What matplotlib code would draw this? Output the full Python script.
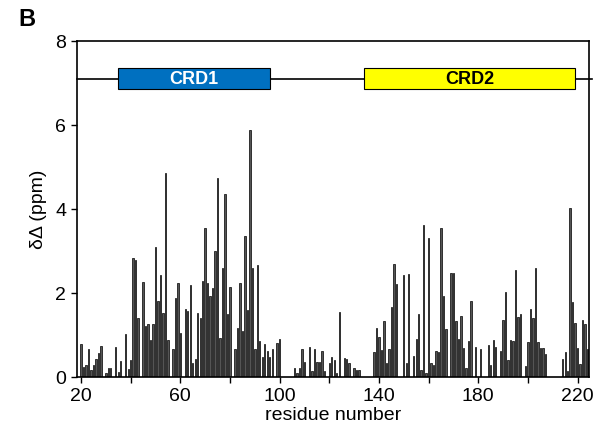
import matplotlib
matplotlib.use("Agg")
import matplotlib.pyplot as plt
from matplotlib.patches import Rectangle
from matplotlib.ticker import MultipleLocator
import numpy as np

plt.rcParams['font.family'] = ['Liberation Sans', 'DejaVu Sans']

# residue numbers 20..224, chemical shift perturbation (ppm); 0 = no bar
residues = list(range(20, 225))
shifts = [
    0.79, 0.23, 0.30, 0.68, 0.17, 0.30, 0.44, 0.58, 0.75, 0.00,   # 20-29
    0.09, 0.21, 0.21, 0.00, 0.72, 0.13, 0.38, 0.00, 1.02, 0.20,   # 30-39
    0.42, 2.83, 2.79, 1.42, 0.00, 2.27, 1.22, 1.26, 0.88, 1.26,   # 40-49
    3.10, 1.81, 2.44, 1.53, 4.85, 0.88, 0.00, 0.66, 1.89, 2.25,   # 50-59
    1.04, 0.00, 1.63, 1.57, 2.19, 0.33, 0.43, 1.53, 1.40, 2.29,   # 60-69
    3.56, 2.25, 1.94, 2.13, 3.00, 4.73, 0.94, 2.59, 4.37, 1.50,   # 70-79
    2.15, 0.00, 0.68, 1.16, 2.23, 1.10, 3.37, 1.60, 5.88, 2.60,   # 80-89
    0.67, 2.68, 0.87, 0.48, 0.78, 0.62, 0.48, 0.67, 0.00, 0.82,   # 90-99
    0.90, 0.00, 0.00, 0.00, 0.00, 0.00, 0.21, 0.11, 0.21, 0.68,   # 100-109
    0.36, 0.00, 0.71, 0.15, 0.67, 0.36, 0.37, 0.62, 0.15, 0.00,   # 110-119
    0.33, 0.47, 0.40, 0.09, 1.54, 0.00, 0.45, 0.44, 0.34, 0.00,   # 120-129
    0.21, 0.17, 0.16, 0.00, 0.00, 0.00, 0.00, 0.00, 0.60, 1.16,   # 130-139
    0.96, 0.64, 1.34, 0.33, 0.67, 1.67, 2.69, 2.21, 0.00, 0.00,   # 140-149
    2.43, 0.34, 2.46, 0.00, 0.50, 0.90, 1.50, 0.17, 3.62, 0.09,   # 150-159
    3.32, 0.33, 0.28, 0.62, 0.59, 3.54, 1.94, 1.15, 0.00, 2.49,   # 160-169
    2.47, 1.33, 0.92, 1.46, 0.70, 0.22, 0.86, 1.81, 0.00, 0.72,   # 170-179
    0.00, 0.66, 0.00, 0.00, 0.76, 0.30, 0.88, 0.71, 0.00, 0.62,   # 180-189
    1.36, 2.02, 0.42, 0.88, 0.86, 2.56, 1.44, 1.50, 0.00, 0.26,   # 190-199
    0.84, 1.63, 1.40, 2.60, 0.84, 0.70, 0.70, 0.56, 0.00, 0.00,   # 200-209
    0.00, 0.00, 0.00, 0.00, 0.44, 0.59, 0.14, 4.03, 1.80, 1.28,   # 210-219
    0.70, 0.31, 1.37, 1.26, 0.67,                                 # 220-224
]

# domain boxes (start, end residue)
domain_names = ['CRD1', 'CRD2']
domain_starts = [35, 134]
domain_ends = [96, 219]
domain_colors = ['#0070C0', '#FFFF00']
domain_text = ['white', 'black']

x_ticks = [20, 60, 100, 140, 180, 220]
y_ticks = [0, 2, 4, 6, 8]

fig = plt.figure(figsize=(5.98, 4.33), dpi=100)
ax = fig.add_axes([0.128, 0.129, 0.857, 0.776])

x = np.array(residues)
y = np.array(shifts)
mask = y > 0
ax.bar(x[mask], y[mask], width=0.55, color='#555555', edgecolor='black', linewidth=0.5)

# domain diagram
xmin, xmax = 18.2, 224.6
ax.plot([xmin, xmax + 1.2], [7.1, 7.1], color='black', lw=1.2, clip_on=False, zorder=2)
for name, s, e, c, tc in zip(domain_names, domain_starts, domain_ends, domain_colors, domain_text):
    ax.add_patch(Rectangle((s, 6.85), e - s, 0.5, facecolor=c, edgecolor='black', lw=0.8, zorder=3))
    ax.text((s + e) / 2, 7.08, name, ha='center', va='center', color=tc,
            fontsize=13, fontweight='bold', zorder=4)

ax.set_xlim(xmin, xmax)
ax.set_ylim(0, 8)
ax.set_xticks(x_ticks)
ax.xaxis.set_minor_locator(MultipleLocator(20))
ax.set_yticks(y_ticks)
ax.tick_params(axis='both', labelsize=14, width=1.0, length=4, direction='out')
ax.tick_params(axis='x', which='minor', width=1.0, length=4)
ax.tick_params(top=False, right=False)
for sp in ax.spines.values():
    sp.set_linewidth(1.2)

ax.set_xlabel('residue number', fontsize=14, labelpad=2)
ax.set_ylabel('δΔ (ppm)', fontsize=14, labelpad=6)

fig.text(0.03, 0.955, 'B', fontsize=17, fontweight='bold', va='center')

fig.savefig('out.png', dpi=100)
